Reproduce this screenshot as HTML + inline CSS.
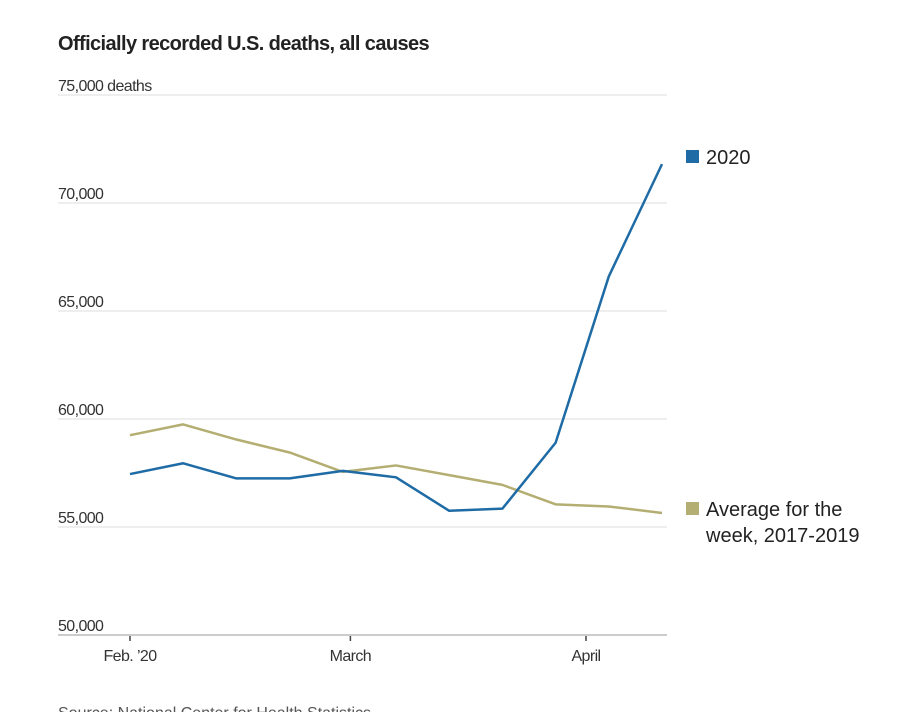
<!DOCTYPE html>
<html><head><meta charset="utf-8"><style>
html,body{margin:0;padding:0;background:#fff;width:900px;height:712px;overflow:hidden}
svg text{font-family:"Liberation Sans",sans-serif}
</style></head><body>
<svg width="900" height="712">
<text x="58" y="50" font-size="20" font-weight="bold" fill="#222" letter-spacing="-0.6">Officially recorded U.S. deaths, all causes</text>
<g id="grid"></g>
<g id="xaxis"></g>
<g id="lines"></g>
<g>
<rect x="686" y="150" width="13" height="13" fill="#1f6ba5"/>
<text x="706" y="164" font-size="20" fill="#222">2020</text>
<rect x="686" y="502" width="13" height="13" fill="#b4ae72"/>
<text x="706" y="516" font-size="20" fill="#222">Average for the</text>
<text x="706" y="542" font-size="20" fill="#222">week, 2017-2019</text>
</g>
<text x="58" y="718" font-size="16" fill="#555">Source: National Center for Health Statistics</text>
</svg>
<script>
const yTicks=[50000,55000,60000,65000,70000,75000];
const yTickLabels=["50,000","55,000","60,000","65,000","70,000","75,000 deaths"];
const weeks=[0,7,14,21,28,35,42,49,56,63,70]; // days since Feb 1
const series2020=[57450,57950,57250,57250,57600,57300,55750,55850,58900,66600,71800];
const seriesAvg=[59250,59750,59050,58450,57550,57850,57400,56950,56050,55950,55650];
const xTickDays=[0,29,60];
const xTickLabels=["Feb. \u201920","March","April"];
const NS="http://www.w3.org/2000/svg";
const y=v=>635-(v-50000)*0.0216;
const x=d=>130+d*(532/70);
function mk(t,a,p){const e=document.createElementNS(NS,t);for(const k in a)e.setAttribute(k,a[k]);p.appendChild(e);return e;}
const grid=document.getElementById('grid');
yTicks.forEach((v,i)=>{
 const l=mk('line',{x1:58,x2:667,y1:y(v),y2:y(v),stroke:i==0?'#ccc':'#ddd','stroke-width':i==0?2:1},grid);
 
 
 const t=mk('text',{x:58,y:y(v)-4,'font-size':16,fill:'#333','letter-spacing':'-0.6'},grid);
 t.textContent=yTickLabels[i];
 
 
});
const xa=document.getElementById('xaxis');
xTickDays.forEach((d,i)=>{
 const l=mk('line',{x1:x(d),x2:x(d),y1:636,y2:641,stroke:'#444','stroke-width':1.5},xa);
 
 
 const t=mk('text',{x:x(d),y:661,'font-size':16,fill:'#333','text-anchor':'middle','letter-spacing':'-0.6'},xa);
 t.textContent=xTickLabels[i];
 
 
});
const lg=document.getElementById('lines');
function line(vals,c,name){
 const p=mk('polyline',{points:vals.map((v,i)=>x(weeks[i])+','+y(v)).join(' '),fill:'none',stroke:c,'stroke-width':2.5,'stroke-linejoin':'round'},lg);
 
 
}
line(seriesAvg,'#b4ae72','line-average');
line(series2020,'#1f6ba5','line-2020');
</script>
</body></html>
